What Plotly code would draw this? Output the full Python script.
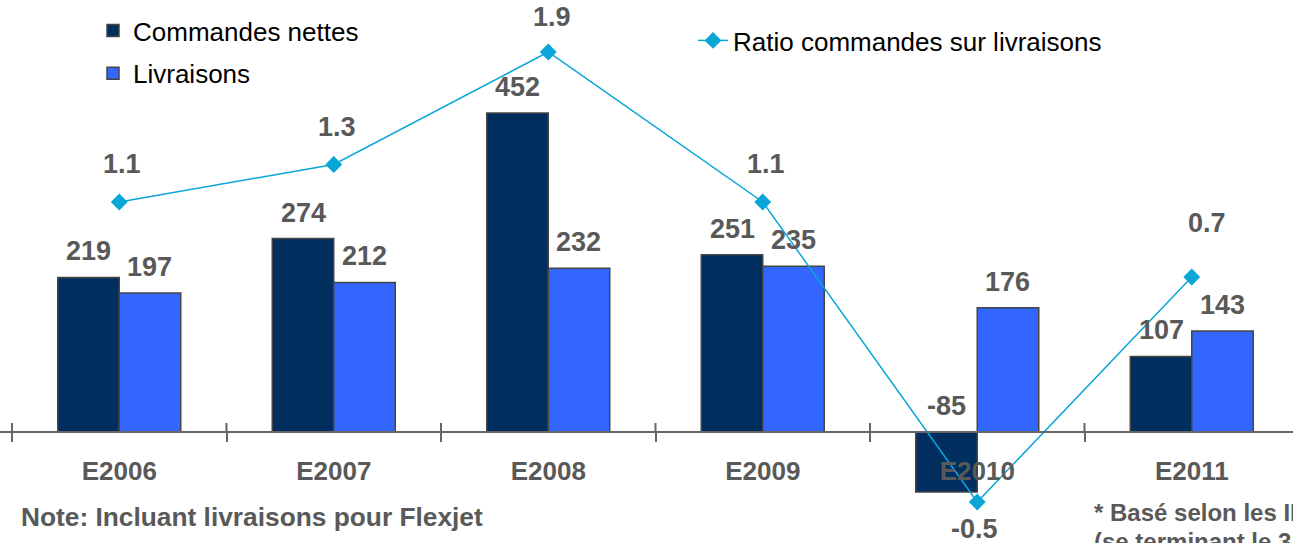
import plotly.graph_objects as go

categories = ["E2006", "E2007", "E2008", "E2009", "E2010", "E2011"]
commandes = [219, 274, 452, 251, -85, 107]
livraisons = [197, 212, 232, 235, 176, 143]
ratio = [1.1, 1.3, 1.9, 1.1, -0.5, 0.7]

DARK = "#002F5F"
LIGHT = "#3366FF"
CYAN = "#0AA6D8"
GRAY = "#595959"
EDGE = "#454545"
FONT = "Liberation Sans"
W, H = 1293, 543

fig = go.Figure()
fig.add_trace(go.Bar(
    x=categories, y=commandes, name="Commandes nettes",
    marker=dict(color=DARK, line=dict(color=EDGE, width=1.5)),
    legend="legend", legendgroup="a"))
fig.add_trace(go.Bar(
    x=categories, y=livraisons, name="Livraisons",
    marker=dict(color=LIGHT, line=dict(color=EDGE, width=1.5)),
    legend="legend", legendgroup="b"))
fig.add_trace(go.Scatter(
    x=categories, y=ratio, yaxis="y2", mode="lines+markers",
    name="Ratio commandes sur livraisons",
    line=dict(color=CYAN, width=1.5),
    marker=dict(symbol="diamond", size=13, color=CYAN),
    legend="legend2"))

bar_offset = 30.7
label_font = dict(family=FONT, size=27, color=GRAY, weight="bold")
annotations = []
for i, c in enumerate(categories):
    for vals, xs in ((commandes, -bar_offset), (livraisons, bar_offset)):
        v = vals[i]
        annotations.append(dict(
            x=c, y=max(v, 0), xref="x", yref="y", text=str(v),
            showarrow=False, xshift=xs, yshift=26, yanchor="middle",
            font=label_font))

ratio_shift = {4: (-3, -27), 5: (15, 54), 2: (4, 35)}
for i, c in enumerate(categories):
    xs, ys = ratio_shift.get(i, (3, 38))
    annotations.append(dict(
        x=c, y=ratio[i], xref="x", yref="y2", text=f"{ratio[i]:.1f}",
        showarrow=False, xshift=xs, yshift=ys, yanchor="middle",
        font=label_font))

annotations.append(dict(
    x=19 / W, y=1 - 517 / H, xref="paper", yref="paper", xanchor="left",
    yanchor="middle", showarrow=False,
    text="Note: Incluant livraisons pour Flexjet",
    font=dict(family=FONT, size=26.3, color=GRAY, weight="bold")))
annotations.append(dict(
    x=1092 / W, y=1 - 512 / H, xref="paper", yref="paper", xanchor="left",
    yanchor="middle", showarrow=False,
    text="* Basé selon les IFRS",
    font=dict(family=FONT, size=24, color=GRAY, weight="bold")))
annotations.append(dict(
    x=1092 / W, y=1 - 541 / H, xref="paper", yref="paper", xanchor="left",
    yanchor="middle", showarrow=False,
    text="(se terminant le 31 décembre)",
    font=dict(family=FONT, size=24, color=GRAY, weight="bold")))

shapes = []
for k in range(len(categories) + 1):
    shapes.append(dict(
        type="line", xref="x", yref="y", x0=k - 0.5, x1=k - 0.5,
        ysizemode="pixel", yanchor=0, y0=0, y1=9,
        line=dict(color="#666666", width=2)))

cat_w = 214.5
xmin = -119.25 / cat_w
xmax = xmin + W / cat_w
px_per_unit = 319 / 452
ymin = -(H - 432) / px_per_unit
ymax = 432 / px_per_unit
r_scale = 187.5
r_zero = 408.25
y2min = -(H - r_zero) / r_scale
y2max = r_zero / r_scale

fig.update_layout(
    width=W, height=H, autosize=False,
    margin=dict(l=0, r=0, t=0, b=0),
    paper_bgcolor="white", plot_bgcolor="white",
    barmode="group", bargap=0.4266, bargroupgap=0,
    font=dict(family=FONT),
    xaxis=dict(
        type="category", range=[xmin, xmax], anchor="free",
        position=1 - 432 / H, showline=True, linecolor="#666666",
        linewidth=2, ticks="outside", ticklen=9, tickwidth=2,
        tickcolor="#666666", tickson="boundaries", showgrid=False,
        tickfont=dict(family=FONT, size=26, color=GRAY, weight="bold"),
        ticklabelstandoff=16),
    yaxis=dict(range=[ymin, ymax], visible=False, showgrid=False,
               zeroline=False),
    yaxis2=dict(range=[y2min, y2max], overlaying="y", visible=False,
                showgrid=False, zeroline=False),
    legend=dict(x=93 / W, y=1 - 7 / H, xanchor="left", yanchor="top",
                bgcolor="rgba(0,0,0,0)", traceorder="grouped",
                tracegroupgap=6,
                font=dict(family=FONT, size=26, color="black")),
    legend2=dict(x=693 / W, y=1 - 17 / H, xanchor="left", yanchor="top",
                 bgcolor="rgba(0,0,0,0)",
                 font=dict(family=FONT, size=26, color="black")),
    annotations=annotations,
    shapes=shapes,
)

fig.write_html(
    "out.html",
    config={"displayModeBar": False},
    post_script="document.body.style.margin='0';document.body.style.overflow='hidden';",
)
